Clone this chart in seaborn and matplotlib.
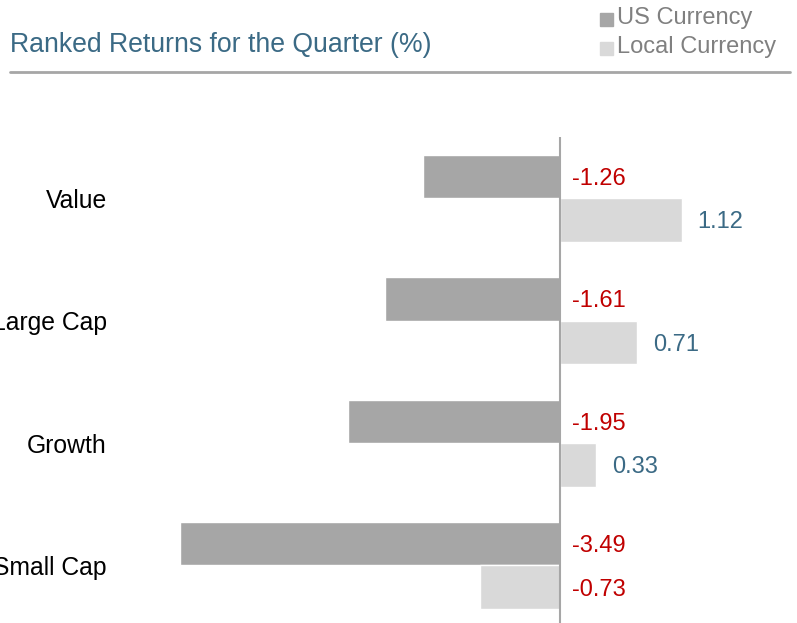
import matplotlib
matplotlib.use("Agg")
import matplotlib.pyplot as plt
import seaborn as sns
import pandas as pd

categories = ["Value", "Large Cap", "Growth", "Small Cap"]
us_currency = [-1.26, -1.61, -1.95, -3.49]
local_currency = [1.12, 0.71, 0.33, -0.73]
series_names = ["US Currency", "Local Currency"]

df = pd.DataFrame({
    "Category": categories * 2,
    "Return": us_currency + local_currency,
    "Series": [series_names[0]] * 4 + [series_names[1]] * 4,
})

sns.set_theme(style="white")
plt.rcParams["font.family"] = ["Liberation Sans", "DejaVu Sans"]

fig = plt.figure(figsize=(7.97, 6.23), dpi=100)
ax = fig.add_axes([115 / 797, 0, (797 - 115) / 797, (623 - 137) / 623])

colors = {"US Currency": "#A6A6A6", "Local Currency": "#D9D9D9"}
sns.barplot(data=df, y="Category", x="Return", hue="Series", order=categories,
            hue_order=series_names, palette=colors, orient="h", width=0.71,
            ax=ax, legend=False, saturation=1)

ax.set_xlim(-4.09, 2.18)
ax.set_ylim(3.47, -0.5)
ax.axvline(0, color="#A6A6A6", lw=1.5)
for s in ax.spines.values():
    s.set_visible(False)
ax.set_xticks([])
ax.set_xlabel("")
ax.set_ylabel("")
ax.tick_params(axis="y", length=0, pad=12, labelsize=17.8, labelcolor="black")
for lbl in ax.get_yticklabels():
    lbl.set_x(lbl.get_position()[0])
ax.yaxis.set_tick_params(pad=12)

red = "#C00000"
blue = "#3B6A85"
px = 1 / 108.8
for container, vals in zip(ax.containers, [us_currency, local_currency]):
    for bar, v in zip(container, vals):
        yc = bar.get_y() + bar.get_height() / 2
        if v >= 0:
            x = v + 16 * px
            col = blue
        else:
            x = 12 * px
            col = red
        ax.text(x, yc + 0.02, f"{v:.2f}", color=col, fontsize=17,
                va="center", ha="left")

fig.text(10 / 797, 1 - 45 / 623, "Ranked Returns for the Quarter (%)",
         fontsize=19.2, color="#3B6A85", va="center", ha="left")

# legend
fig.patches.append(plt.Rectangle((600 / 797, 1 - 26 / 623), 13 / 797, 13 / 623,
                                 transform=fig.transFigure, color="#A6A6A6"))
fig.patches.append(plt.Rectangle((600 / 797, 1 - 55 / 623), 13 / 797, 13 / 623,
                                 transform=fig.transFigure, color="#D9D9D9"))
fig.text(617 / 797, 1 - 18 / 623, "US Currency", fontsize=17, color="#808080",
         va="center", ha="left")
fig.text(617 / 797, 1 - 47 / 623, "Local Currency", fontsize=17, color="#808080",
         va="center", ha="left")

fig.add_artist(plt.Line2D([10 / 797, 790 / 797], [1 - 72 / 623, 1 - 72 / 623],
                          transform=fig.transFigure, color="#A6A6A6", lw=2))

# shift category labels so their right edge sits at ~103 px
ax.tick_params(axis="y", pad=6)

fig.savefig("out.png", dpi=100)
